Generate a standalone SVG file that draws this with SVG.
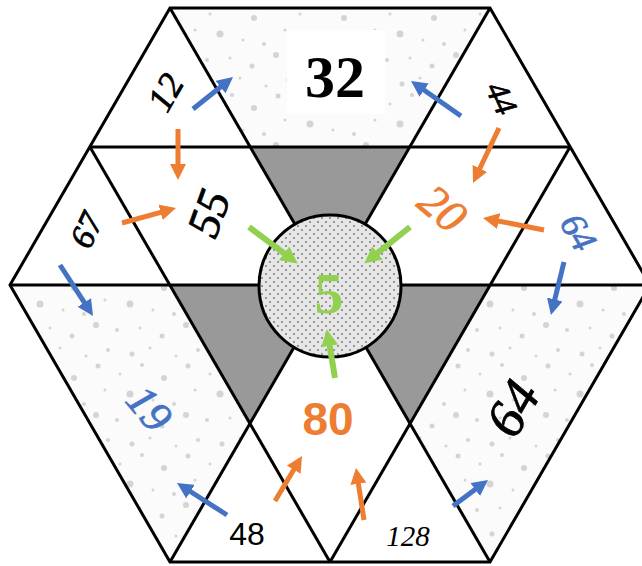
<svg xmlns="http://www.w3.org/2000/svg" width="642" height="566" viewBox="0 0 642 566">
<style>
.ln{fill:none;stroke:#000;stroke-width:3;stroke-linejoin:miter}
.gray{fill:#999999}
.tex{fill:url(#speck)}
.hw{font-family:"Liberation Serif","DejaVu Serif",serif;font-style:italic;text-anchor:middle;stroke-width:0.8}
.ab{stroke:#4472C4;stroke-width:5;fill:none}
.ao{stroke:#ED7D31;stroke-width:5;fill:none}
.ag{stroke:#92D050;stroke-width:6;fill:none}
</style>
<defs>
<pattern id="speck" width="90" height="90" patternUnits="userSpaceOnUse">
<rect width="90" height="90" fill="#fbfbfb"/>
<g fill="#d4d4d4">
<circle cx="8" cy="6" r="2.5"/><circle cx="30" cy="14" r="1.5"/><circle cx="52" cy="5" r="2"/><circle cx="74" cy="18" r="3"/>
<circle cx="15" cy="30" r="1.5"/><circle cx="40" cy="34" r="3.5"/><circle cx="63" cy="40" r="1.5"/><circle cx="84" cy="44" r="2"/>
<circle cx="6" cy="55" r="3"/><circle cx="27" cy="60" r="2"/><circle cx="50" cy="58" r="1.5"/><circle cx="72" cy="66" r="2.5"/>
<circle cx="18" cy="80" r="2"/><circle cx="42" cy="84" r="2.5"/><circle cx="60" cy="78" r="1.5"/><circle cx="86" cy="86" r="1.5"/>
</g>
</pattern>
<pattern id="stip" width="8" height="8" patternUnits="userSpaceOnUse">
<rect width="8" height="8" fill="#e6e6e6"/>
<circle cx="2" cy="2" r="0.9" fill="#707070"/><circle cx="6" cy="6" r="0.9" fill="#707070"/>
</pattern>
<marker id="hb" viewBox="0 0 16 16" markerWidth="16" markerHeight="16" markerUnits="userSpaceOnUse" refX="2" refY="8" orient="auto"><path d="M0,0 L16,8 L0,16 z" fill="#4472C4"/></marker>
<marker id="ho" viewBox="0 0 16 16" markerWidth="16" markerHeight="16" markerUnits="userSpaceOnUse" refX="2" refY="8" orient="auto"><path d="M0,0 L16,8 L0,16 z" fill="#ED7D31"/></marker>
<marker id="hg" viewBox="0 0 16 16" markerWidth="17" markerHeight="17" markerUnits="userSpaceOnUse" refX="2" refY="8" orient="auto"><path d="M0,0 L16,8 L0,16 z" fill="#92D050"/></marker>
</defs>
<rect width="642" height="566" fill="#ffffff"/>

<g id="region-32">
<polygon class="tex" points="170,8 490,8 410,147 250,147"/>
<rect x="287" y="30" width="98" height="84" fill="#ffffff"/>
</g>
<g id="region-19">
<polygon class="tex" points="10,285 170,285 250,424 170,562"/>
</g>
<g id="region-64">
<polygon class="tex" points="490,285 650,285 490,562 410,424"/>
</g>
<g id="gray-shapes">
<polygon class="gray" points="250,147 410,147 330,285"/>
<polygon class="gray" points="170,285 330,285 250,424"/>
<polygon class="gray" points="330,285 490,285 410,424"/>
</g>

<g id="grid">
<polygon class="ln" points="170,8 490,8 650,285 490,562 170,562 10,285"/>
<line class="ln" x1="90" y1="147" x2="570" y2="147"/>
<line class="ln" x1="10" y1="285" x2="650" y2="285"/>
<line class="ln" x1="170" y1="8" x2="490" y2="562"/>
<line class="ln" x1="490" y1="8" x2="170" y2="562"/>
<line class="ln" x1="90" y1="147" x2="330" y2="562"/>
<line class="ln" x1="570" y1="147" x2="330" y2="562"/>
</g>

<g id="center">
<circle cx="330" cy="286" r="71" fill="url(#stip)" stroke="#000" stroke-width="3"/>
<text x="329" y="313" font-family="Liberation Serif, serif" font-weight="bold" font-size="58" fill="#92D050" text-anchor="middle">5</text>
</g>

<g id="n32"><text x="335" y="97" font-family="Liberation Serif, serif" font-weight="bold" font-size="60" fill="#000" text-anchor="middle">32</text></g>
<g id="n12"><text class="hw" transform="translate(165,92) rotate(-60)" dy="0.35em" font-size="36" fill="#000" stroke="#000">12</text></g>
<g id="n44"><text class="hw" transform="translate(502,98) rotate(65)" dy="0.35em" font-size="32" fill="#000" stroke="#000">44</text></g>
<g id="n55"><text class="hw" transform="translate(208,213) rotate(-70)" dy="0.35em" font-size="46" fill="#000" stroke="#000">55</text></g>
<g id="n67"><text class="hw" transform="translate(86,230) rotate(-65)" dy="0.35em" font-size="34" fill="#000" stroke="#000">67</text></g>
<g id="n20"><text class="hw" transform="translate(443,208) rotate(40)" dy="0.35em" font-size="46" fill="#ED7D31" stroke="#ED7D31">20</text></g>
<g id="n64a"><text class="hw" transform="translate(579,232) rotate(60)" dy="0.35em" font-size="36" fill="#4472C4" stroke="#4472C4">64</text></g>
<g id="n19"><text class="hw" transform="translate(150,408) rotate(50)" dy="0.35em" font-size="44" fill="#4472C4" stroke="#4472C4">19</text></g>
<g id="n64b"><text class="hw" transform="translate(512,408) rotate(-60)" dy="0.35em" font-size="54" fill="#000" stroke="#000">64</text></g>
<g id="n80"><text x="328" y="435" font-family="Liberation Sans, sans-serif" font-weight="bold" font-size="46" fill="#ED7D31" text-anchor="middle">80</text></g>
<g id="n48"><text x="247" y="545" font-family="Liberation Sans, sans-serif" font-size="32" fill="#000" text-anchor="middle">48</text></g>
<g id="n128"><text class="hw" x="408" y="546" font-size="29" fill="#000">128</text></g>

<g id="connectors">
<line class="ab" x1="193" y1="109" x2="222.1" y2="85.8" marker-end="url(#hb)"/>
<line class="ab" x1="461" y1="116" x2="422.5" y2="89" marker-end="url(#hb)"/>
<line class="ab" x1="564" y1="262" x2="554.3" y2="301.4" marker-end="url(#hb)"/>
<line class="ab" x1="60" y1="265" x2="85.4" y2="304.2" marker-end="url(#hb)"/>
<line class="ab" x1="227" y1="515" x2="188.8" y2="490.5" marker-end="url(#hb)"/>
<line class="ab" x1="453" y1="506" x2="476.8" y2="488.3" marker-end="url(#hb)"/>
<line class="ao" x1="178" y1="129" x2="178" y2="166" marker-end="url(#ho)"/>
<line class="ao" x1="122" y1="223" x2="162.5" y2="211.8" marker-end="url(#ho)"/>
<line class="ao" x1="499" y1="128" x2="479" y2="170.3" marker-end="url(#ho)"/>
<line class="ao" x1="544" y1="230" x2="496.7" y2="220.7" marker-end="url(#ho)"/>
<line class="ao" x1="275" y1="501" x2="294.8" y2="468" marker-end="url(#ho)"/>
<line class="ao" x1="364" y1="520" x2="358.1" y2="481.8" marker-end="url(#ho)"/>
<line class="ag" x1="249" y1="227" x2="285.8" y2="254.6" marker-end="url(#hg)"/>
<line class="ag" x1="410" y1="227" x2="375.9" y2="254.3" marker-end="url(#hg)"/>
<line class="ag" x1="335" y1="378" x2="329.3" y2="343.8" marker-end="url(#hg)"/>
</g>
</svg>
